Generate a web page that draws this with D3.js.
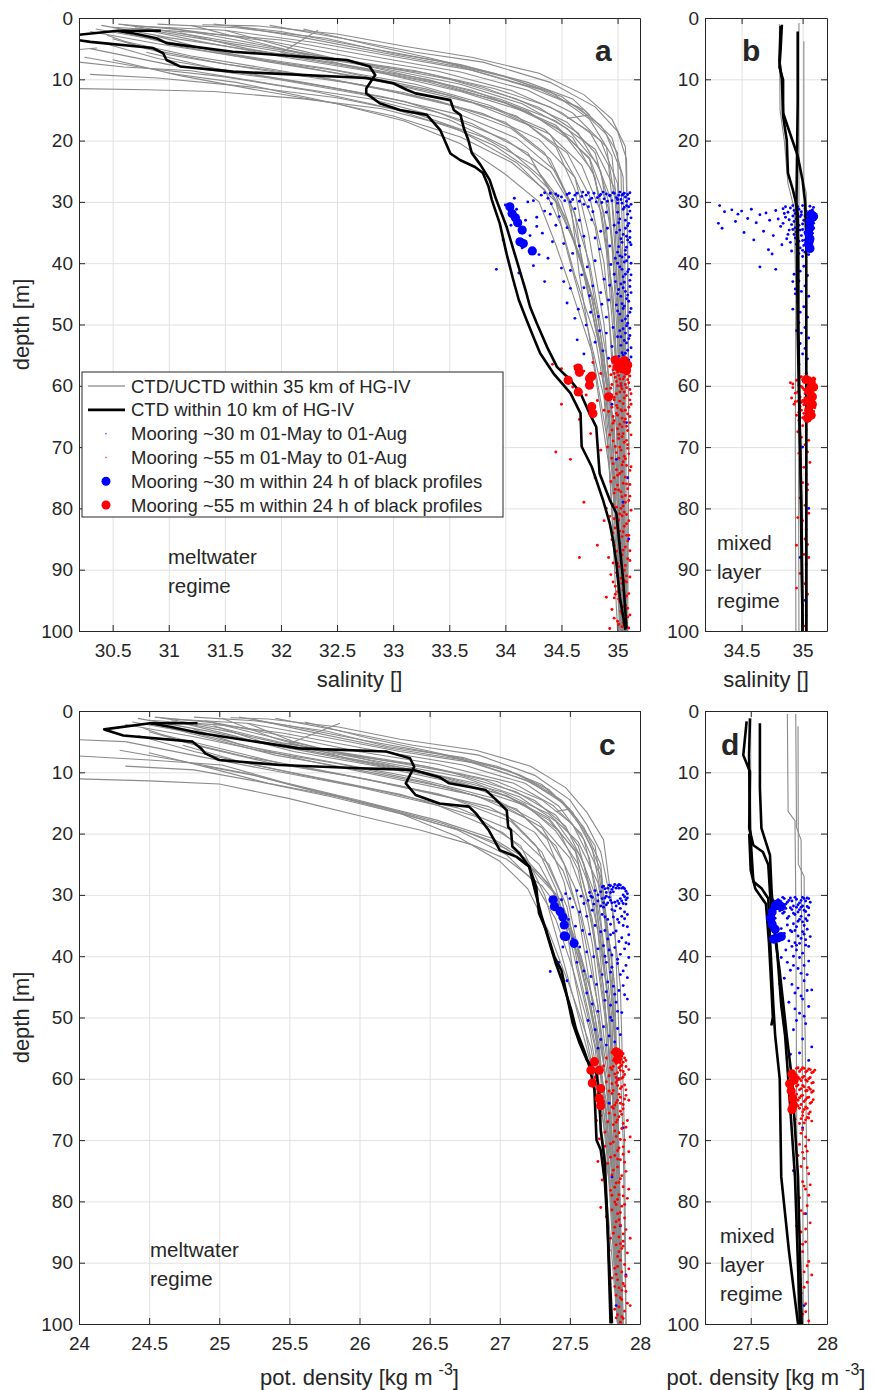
<!DOCTYPE html>
<html>
<head>
<meta charset="utf-8">
<script src="https://cdn.jsdelivr.net/npm/d3@7"></script>
<style>
  body { margin: 0; background: #fff; }
  text { font-family: "Liberation Sans", Arial, Helvetica, sans-serif; fill: #262626; }
</style>
</head>
<body>
<div id="chart"></div>
<script>
// ---------- tick values ----------
const depthTicks = [0, 10, 20, 30, 40, 50, 60, 70, 80, 90, 100];
const salTicksA = [30.5, 31, 31.5, 32, 32.5, 33, 33.5, 34, 34.5, 35];
const salTicksB = [34.5, 35];
const denTicksC = [24, 24.5, 25, 25.5, 26, 26.5, 27, 27.5, 28];
const denTicksD = [27.5, 28];

// ---------- panel a: salinity profiles [S, depth] ----------
const grayA = [
  [[31.9,1.2],[32.6,3.5],[33.2,5.6],[33.8,7.2],[34.4,10.5],[34.8,14.5],[35.0,18.5],[35.08,23],[35.09,40],[35.1,70],[35.09,100]],
  [[30.9,1.0],[31.6,1.6],[32.4,3.3],[33.0,5.8],[33.6,7.6],[34.2,10.5],[34.6,13.2],[34.75,15.8],[34.55,16.4]],
  [[30.7,1.3],[31.5,2.0],[32.3,4.0],[33.1,6.6],[33.7,8.5],[34.3,11.6],[34.7,15],[34.95,19.5],[35.05,26],[35.07,45],[35.08,100]],
  [[31.4,1.0],[32.0,2.2],[32.7,4.6],[33.4,7.0],[34.0,9.6],[34.5,12.8],[34.85,17.5],[35.0,22],[35.02,35],[35.05,60],[35.07,100]],
  [[30.5,1.5],[31.2,2.3],[32.0,3.6],[32.8,6.2],[33.6,8.8],[34.2,11.8],[34.6,15.5],[34.9,21],[34.98,30],[35.03,50],[35.06,100]],
  [[32.2,1.8],[32.8,4.4],[33.3,6.4],[33.9,9.0],[34.4,12.0],[34.75,16.5],[34.95,22.5],[35.0,32],[35.04,55],[35.06,100]],
  [[32.33,2.0],[32.0,5.7],[32.6,7.2],[33.3,9.0],[33.9,11.5],[34.4,14.5],[34.75,18.5],[34.92,24],[34.98,35],[35.03,60],[35.06,100]],
  [[30.6,1.1],[31.2,2.8],[32.0,5.2],[32.8,7.6],[33.5,10.0],[34.1,13.2],[34.55,17],[34.8,22],[34.92,30],[35.0,45],[35.05,70],[35.07,100]],
  [[30.4,1.2],[31.0,3.2],[31.8,5.4],[32.6,7.9],[33.3,10.4],[34.0,13.8],[34.45,17.5],[34.75,23],[34.88,32],[34.97,50],[35.04,80],[35.05,100]],
  [[31.0,1.6],[31.6,3.6],[32.4,6.4],[33.2,8.6],[33.8,11.3],[34.3,14.6],[34.65,18.8],[34.85,25],[34.95,36],[35.02,60],[35.05,100]],
  [[30.8,2.0],[31.3,3.9],[32.1,6.6],[32.9,9.0],[33.6,12.0],[34.2,15.4],[34.6,19.5],[34.8,26],[34.9,38],[35.0,60],[35.06,100]],
  [[30.3,2.2],[30.9,4.2],[31.7,6.5],[32.5,8.6],[33.3,11.6],[33.9,14.8],[34.4,19],[34.62,26],[34.74,35],[34.88,50],[35.0,75],[35.05,100]],
  [[31.2,1.2],[31.9,4.5],[32.6,7.8],[33.4,10.6],[34.0,13.9],[34.45,17.8],[34.75,22.8],[34.92,31],[35.0,48],[35.05,100]],
  [[30.6,2.4],[31.1,4.6],[31.9,7.2],[32.7,9.6],[33.5,12.6],[34.1,16],[34.45,21],[34.62,28],[34.72,38],[34.88,55],[35.0,85],[35.04,100]],
  [[30.45,2.8],[30.8,5.0],[31.5,7.5],[32.3,9.5],[33.1,12.2],[33.8,15.6],[34.3,19.8],[34.62,26],[34.8,34],[34.92,48],[35.0,70],[35.05,100]],
  [[31.5,2.0],[32.1,5.0],[32.9,8.4],[33.7,11.8],[34.2,15.2],[34.55,19.6],[34.78,25],[34.9,34],[34.98,52],[35.04,100]],
  [[30.9,3.0],[31.4,5.4],[32.2,8.0],[33.0,10.8],[33.7,13.8],[34.2,17.4],[34.55,22],[34.75,29],[34.88,40],[34.98,60],[35.04,100]],
  [[30.5,3.4],[31.0,6.0],[31.8,8.4],[32.6,10.6],[33.4,13.5],[34.0,17],[34.35,22],[34.55,29],[34.68,39],[34.85,55],[34.98,80],[35.05,100]],
  [[30.4,4.0],[30.9,6.6],[31.6,8.8],[32.4,11.2],[33.1,13.6],[33.7,17.2],[34.2,22],[34.45,30],[34.55,38],[34.7,48],[34.88,62],[35.03,100]],
  [[30.3,5.0],[31.0,7.6],[31.9,9.8],[32.7,12.4],[33.4,15.4],[34.0,19.8],[34.4,25],[34.6,31],[34.75,40],[34.9,55],[35.0,75],[35.05,100]],
  [[30.25,6.4],[30.8,8.2],[31.5,9.6],[32.3,12.0],[33.0,14.8],[33.6,18.4],[34.1,23.6],[34.45,30],[34.65,38],[34.82,48],[34.95,65],[35.03,100]],
  [[30.1,7.0],[30.6,8.0],[31.2,8.6],[32.0,11.0],[32.8,13.2],[33.5,16.6],[34.0,21],[34.35,26.5],[34.55,33],[34.75,44],[34.92,60],[35.02,85],[35.04,100]],
  [[30.1,11.5],[30.8,11.7],[31.4,12.0],[32.2,13.2],[32.9,14.8],[33.5,17.6],[33.9,20.8],[34.2,24.5],[34.45,29],[34.6,36],[34.78,46],[34.92,62],[35.02,100]],
  [[30.3,9.2],[30.9,9.8],[31.7,11.2],[32.5,13.0],[33.2,15.6],[33.8,19.4],[34.25,24],[34.5,30],[34.68,40],[34.85,54],[34.97,75],[35.04,100]],
  [[30.1,5.3],[30.36,4.9]],
  [[31.6,1.4],[32.2,3.2],[33.0,6.0],[33.6,8.0],[34.2,11.2],[34.65,14.5],[34.9,19],[35.03,25],[35.06,50],[35.07,100]],
  [[30.7,1.6],[31.3,3.4],[32.1,5.8],[32.9,8.2],[33.6,10.8],[34.15,14],[34.55,18],[34.82,23.8],[34.95,30],[35.02,50],[35.06,100]],
  [[30.35,1.8],[30.9,3.6],[31.6,6.0],[32.4,8.2],[33.2,10.8],[33.85,14.2],[34.35,18.2],[34.68,24],[34.86,32],[34.96,45],[35.03,70],[35.05,100]],
  [[31.1,2.4],[31.7,5.0],[32.5,7.4],[33.3,10.0],[33.95,13.2],[34.45,16.8],[34.8,21.4],[34.98,28],[35.04,40],[35.06,100]],
  [[30.6,3.8],[31.2,6.2],[32.0,8.6],[32.8,11.2],[33.5,14.2],[34.05,18],[34.4,23],[34.58,30],[34.66,42],[34.8,58],[34.98,80],[35.05,100]],
  [[31.3,1.1],[31.8,1.3],[32.5,2.6],[33.1,4.6],[33.7,6.4],[34.3,9.0],[34.7,12.5],[34.95,16.5],[35.07,21],[35.09,35],[35.1,70],[35.08,100]],
  [[30.55,1.0],[31.1,1.9],[31.9,3.8],[32.7,6.6],[33.4,8.7],[34.05,11.8],[34.5,15.4],[34.85,20],[35.0,27],[35.05,45],[35.07,100]],
  [[30.5,6.8],[31.1,9.4],[31.8,11.8],[32.5,14.0],[33.1,16.8],[33.6,20.5],[34.0,25.5],[34.3,30],[34.45,37],[34.6,45],[34.78,55],[34.92,70],[35.0,100]],
  [[31.0,9.0],[31.6,10.5],[32.3,13.2],[33.0,16.0],[33.6,19.4],[34.05,23.5],[34.35,28],[34.5,34],[34.62,42],[34.8,52],[34.95,68],[35.03,100]],
  [[30.8,5.6],[31.4,8.2],[32.2,10.5],[32.9,12.8],[33.6,15.8],[34.1,19.6],[34.45,25],[34.62,32],[34.7,42],[34.82,52],[34.97,66],[35.04,100]]
];
const blackA = [
  [[30.545,2.13],[30.68,2.5],[30.89,3.3],[30.98,4.1],[31.57,5.5],[32.59,6.85],[32.79,7.9],[32.84,9.3],[32.76,11.5],[32.76,12.3],[32.88,13.9],[33.06,15.0],[33.3,15.8],[33.42,18.3],[33.51,22.1],[33.6,23.2],[33.73,24.3],[33.8,25.3],[33.85,27.5],[33.88,29.7],[33.95,33.5],[34.01,38.4],[34.07,42.7],[34.12,46],[34.19,49.3],[34.26,52.5],[34.31,54.7],[34.43,58],[34.58,61.2],[34.67,64.5],[34.68,69.9],[34.77,73.2],[34.87,78.6],[34.93,82.4],[34.96,85.2],[34.99,89],[35.02,94.4],[35.07,99.8]],
  [[30.93,2.07],[30.545,2.07],[30.0,3.1],[30.3,3.9],[30.86,4.9],[30.95,5.75],[30.98,6.85],[31.10,7.9],[31.57,8.75],[32.76,9.8],[33.0,10.65],[33.12,11.7],[33.2,12.3],[33.51,13.4],[33.54,15],[33.6,15.8],[33.63,18],[33.67,19.9],[33.7,22],[33.78,24],[33.86,26.4],[33.92,29.7],[34.01,34],[34.09,38.9],[34.18,44.4],[34.22,47.1],[34.28,49.8],[34.37,53.6],[34.46,56.9],[34.58,59.1],[34.67,61.2],[34.75,64.5],[34.81,66.7],[34.84,74.3],[34.93,78.6],[34.99,80.8],[35.02,86.3],[35.05,91.7],[35.08,99.6]]
];
const blueA = [
  [34.32,28.9],[34.38,29.4],[34.45,28.7],[34.5,29.2],[34.55,28.8],[34.6,29.6],[34.64,28.6],[34.68,29.1],[34.72,28.9],[34.75,29.7],[34.79,28.6],[34.82,29.3],[34.85,28.8],[34.88,29.5],[34.9,28.7],[34.93,29.0],[34.95,29.8],[34.97,28.6],[34.99,29.3],[35.01,28.9],[35.03,29.6],[35.05,28.7],[35.07,29.2],[35.09,28.8],[35.1,29.5],[34.41,30.3],[34.58,30.0],[34.7,30.4],[34.86,30.1],[35.0,30.2],[35.08,30.6],[34.25,29.8],[34.93,28.9],[35.06,28.6],[34.77,29.4],
  [34.35,28.5],[34.47,29.0],[34.53,29.8],[34.62,28.9],[34.66,29.9],[34.74,28.5],[34.81,30.0],[34.84,29.0],[34.91,29.9],[34.96,28.5],[35.0,29.6],[35.04,28.9],[35.08,29.9],[35.11,28.5],[35.12,30.4],[34.4,28.6],[34.57,28.6],[34.69,28.4],[34.87,28.4],[35.02,28.4],
  [35.05,31.2],[35.09,32.0],[35.02,32.8],[35.1,33.5],[35.07,34.3],[34.99,35.0],[35.11,35.8],[35.04,36.6],[35.08,37.4],[35.0,38.2],[35.1,39.0],[35.06,39.8],[35.02,40.6],[35.09,41.4],[35.05,42.2],[34.98,43.0],[35.11,43.8],[35.07,44.6],[35.03,45.4],[35.1,46.2],[35.06,47.0],[35.0,47.8],[35.09,48.6],[35.04,49.4],[35.08,50.2],[35.02,51.0],[35.11,51.8],[35.06,52.6],[35.03,53.4],[35.09,54.2],[35.05,55.0],[35.1,55.8],[35.07,33.0],[35.03,36.0],[35.1,41.0],[35.0,45.0],[35.08,53.0],[34.96,50.5],[35.04,39.0],[35.11,31.5],[34.97,33.8],[35.05,44.0],[35.09,49.8],[35.01,55.2],[35.07,37.9],
  [35.12,32.6],[35.0,31.7],[35.06,30.9],[35.11,34.8],[35.02,34.6],[35.08,35.6],[35.12,37.0],[35.01,37.3],[35.07,38.6],[35.12,40.0],[35.0,40.0],[35.07,41.8],[35.11,42.8],[35.03,43.4],[35.08,45.8],[35.12,47.4],[35.02,48.3],[35.07,49.1],[35.11,50.6],[35.0,52.0],[35.07,51.4],[35.12,53.8],[35.04,54.6],[35.08,56.0],[35.12,44.8],[34.98,39.2],[34.99,46.8],[34.97,41.8],[35.05,47.4],[35.09,36.2],
  [35.04,30.2],[35.1,30.8],[35.01,33.4],[35.09,33.9],[35.05,35.3],[35.11,36.6],[35.02,38.8],[35.08,39.6],[35.04,41.0],[35.12,41.9],[35.06,43.1],[35.01,44.3],[35.09,45.2],[35.04,46.6],[35.11,48.0],[35.05,50.7],[35.1,52.3],[35.03,52.0],[35.07,54.7],[35.12,55.3],
  [34.35,31.5],[34.48,32.4],[34.62,31.1],[34.77,32.9],[34.9,31.7],[34.55,34.2],[34.7,35.6],[34.85,34.8],[34.42,36.5],[34.93,37.2],[34.6,38.4],[34.8,39.6],[34.5,40.8],[34.68,41.9],[34.88,42.6],[34.58,44.1],[34.75,45.3],[34.92,46.0],[34.65,47.5],[34.83,48.7],[34.72,50.1],[34.9,51.4],[34.8,52.9],[34.87,54.3],[34.45,33.8],[34.33,35.1],[34.66,33.0],[34.84,37.7],[34.52,43.0],[34.94,40.2],[34.38,39.2],[34.78,43.7],[34.62,49.0],[34.9,48.8],[34.95,53.6],[34.7,54.8],[34.85,44.8],[34.28,32.5],[34.74,30.8],[34.55,46.5],
  [34.4,32.0],[34.52,36.8],[34.66,37.2],[34.8,35.9],[34.91,34.3],[34.73,40.6],[34.58,41.2],[34.86,46.7],[34.7,44.0],[34.93,43.6],[34.76,48.0],[34.84,51.0],[34.64,52.5],[34.92,55.5],[34.78,31.6],
  [34.0,30.5],[34.1,31.2],[34.18,33.0],[34.05,33.8],[34.22,35.5],[34.15,37.5],[34.3,38.6],[33.98,36.2],[34.25,40.4],[34.12,41.6],[33.92,41.0],[34.2,30.0],[34.08,29.4],[34.28,34.0],[34.35,43.0],
  [35.03,60],[35.08,66],[34.99,72],[35.05,79],[35.1,85],[35.0,91],[35.06,96],[34.95,63],[35.09,75]
];
const redA = [
  [34.95,55.6],[34.98,56.2],[35.01,55.8],[35.03,56.5],[35.05,55.7],[35.07,56.9],[35.09,56.0],[35.1,57.2],[34.96,57.4],[35.0,57.8],[35.04,57.5],[35.08,58.1],[34.93,56.8],[35.06,58.5],[35.02,58.9],[34.99,59.3],[35.1,59.5],
  [34.96,55.5],[35.0,55.5],[35.04,56.0],[35.08,55.5],[35.11,56.3],[34.97,56.9],[35.02,57.0],[35.06,57.5],[35.11,58.4],[34.94,58.2],[34.98,58.6],[35.03,59.6],[35.07,59.8],[35.11,60.6],[34.95,61.5],[34.99,61.3],[35.06,61.0],[35.11,62.3],[35.0,63.6],[35.04,64.1],[35.09,64.6],[34.97,65.7],[35.02,66.3],[35.11,66.0],[34.95,67.2],[35.05,67.8],[35.08,68.9],[34.99,70.9],[35.06,71.5],[35.12,73.2],[35.0,74.6],[35.05,75.9],[35.11,76.1],[34.98,76.9],[35.03,77.3],[35.07,79.0],[34.99,79.8],[35.12,80.3],[35.04,81.2],[34.97,81.7],[35.06,82.9],[35.02,83.7],[35.09,85.3],[34.97,86.0],[35.11,86.9],[35.03,88.6],[35.07,89.3],[34.99,90.5],[35.11,91.2],[35.04,92.2],[35.0,93.6],[35.08,94.3],[35.03,96.8],[35.11,97.4],[34.97,97.9],[35.05,98.7],[35.1,99.5],[34.96,92.0],[35.08,84.4],[35.01,71.8],
  [34.97,58.0],[35.01,58.3],[35.05,58.9],[35.09,59.0],[34.95,59.8],[35.0,60.0],[35.04,60.5],[35.08,60.3],[35.12,61.3],[34.97,61.9],[35.02,62.5],[35.06,62.0],[35.12,63.0],[34.95,63.5],[35.03,63.9],[35.07,64.0],[34.99,64.5],[35.11,65.0],[35.04,65.3],[34.96,65.0],[35.08,66.6],[35.0,67.0],[35.12,68.0],[35.04,68.3],[34.96,69.0],[35.09,69.6],[35.02,70.0],[35.07,71.9],[34.96,72.7],[35.11,73.8],[35.04,74.0],[35.08,76.0],[35.01,77.0],[35.11,78.0],[35.05,79.6],[35.08,81.0],[35.0,82.8],[35.04,84.6],[35.11,88.5],[35.06,91.8],[35.01,94.8],[35.09,96.3],[35.04,99.3],
  [34.94,60.4],[35.02,61.0],[35.08,61.6],[34.97,62.3],[35.05,62.9],[35.1,63.5],[34.92,64.2],[35.0,64.8],[35.07,65.4],[34.96,66.1],[35.04,66.7],[35.09,67.3],[34.93,68.0],[35.01,68.6],[35.06,69.2],[34.98,69.9],[35.03,70.5],[35.1,71.1],[34.95,71.8],[35.05,72.4],[35.08,73.0],[34.99,73.7],[35.02,74.3],[35.07,74.9],[34.94,75.6],[35.0,76.2],[35.09,76.8],[34.97,77.5],[35.04,78.1],[35.1,78.7],[34.96,79.4],[35.03,80.0],[35.06,80.6],[34.93,81.3],[35.01,81.9],[35.08,82.5],[34.98,83.2],[35.05,83.8],[35.1,84.4],[34.95,85.1],[35.02,85.7],[35.07,86.3],[34.99,87.0],[35.04,87.6],[35.09,88.2],[34.96,88.9],[35.01,89.5],[35.06,90.1],[34.94,90.8],[35.03,91.4],[35.08,92.0],[34.98,92.7],[35.05,93.3],[35.1,93.9],[34.97,94.6],[35.02,95.2],[35.07,95.8],[34.95,96.5],[35.04,97.1],[35.09,97.7],[35.0,98.4],[35.06,99.0],[34.93,99.6],
  [35.03,60.1],[34.99,63.2],[35.06,65.9],[35.01,67.9],[35.09,70.2],[35.04,72.9],[34.97,75.0],[35.07,77.9],[35.02,80.9],[35.1,82.0],[34.96,84.0],[35.05,86.8],[35.0,89.0],[35.08,91.0],[34.98,94.0],[35.06,96.0],[35.01,98.9],[34.91,70.0],[34.9,80.0],[34.92,88.0],[34.9,94.5],
  [34.42,56.5],[34.5,57.2],[34.55,58.5],[34.62,56.8],[34.7,57.6],[34.78,56.2],[34.85,58.0],[34.6,60.2],[34.72,61.5],[34.82,62.4],[34.5,63.0],[34.66,65.5],[34.88,64.0],[34.76,67.8],[34.85,70.5],[34.58,72.0],[34.8,75.0],[34.7,79.0],[34.88,82.0],[34.66,88.0],[34.82,86.0],[34.45,70.8],[34.9,60.5],[34.75,59.3]
];
const bigBlueA = [[34.04,30.8],[34.06,31.9],[34.09,32.6],[34.11,33.4],[34.15,34.6],[34.13,36.5],[34.16,36.8],[34.24,38.0]];
const bigRedA = [[34.56,59.1],[34.65,57.1],[34.66,57.8],[34.65,61.0],[34.75,58.8],[34.77,58.4],[34.75,59.9],[34.77,63.4],[34.78,64.5],[34.92,61.8],[34.98,55.8],[35.02,56.3],[35.06,55.9],[35.09,56.6],[35.04,57.2],[35.08,57.5],[35.0,56.9]];

// ---------- panel b: salinity, mixed layer regime ----------
const grayB = [
  [[34.97,0.8],[34.97,30],[34.965,60],[34.97,100]],
  [[35.01,3.8],[35.01,27],[35.03,28.5],[35.035,60],[35.04,100]],
  [[34.81,1.0],[34.815,15],[34.85,20],[34.88,27],[34.93,31],[34.945,45],[34.94,70],[34.945,100]]
];
const blackB = [
  [[34.83,1.1],[34.82,5],[34.81,8],[34.84,10.1],[34.84,16],[34.87,19.9],[34.88,25.3],[34.92,28],[34.94,29.7],[34.96,32],[34.965,40],[34.965,49],[34.975,65],[34.99,79],[35.0,100]],
  [[34.96,2.2],[34.96,13.4],[34.95,29.7],[34.955,40],[34.96,51],[34.98,70],[34.99,85],[35.0,100]],
  [[34.82,1.3],[34.81,7],[34.83,10],[34.84,15.5],[34.9,19],[34.96,22.5],[35.0,26.5],[35.02,30],[35.03,36],[35.03,50],[35.03,70],[35.03,100]]
];
const blueB = [
  [34.9,31.0],[34.93,31.4],[34.96,30.8],[34.99,31.6],[35.02,31.1],[35.05,31.8],[35.08,31.3],[35.1,31.9],[34.92,32.3],[34.95,32.8],[34.98,32.4],[35.01,33.0],[35.04,32.6],[35.07,33.2],[35.1,32.9],[34.91,33.7],[34.94,34.2],[34.97,33.8],[35.0,34.5],[35.03,34.0],[35.06,34.7],[35.09,34.3],[34.93,35.3],[34.96,35.9],[34.99,35.5],[35.02,36.2],[35.05,35.8],[35.08,36.5],[34.95,36.9],[34.98,37.5],[35.01,37.1],[35.04,37.8],[35.07,37.3],[34.97,38.4],[35.0,38.9],[35.03,38.6],[34.88,31.7],[34.86,32.5],[34.89,34.6],[34.87,36.0],
  [34.92,30.6],[34.97,31.2],[35.0,30.6],[35.03,31.5],[35.06,30.7],[35.09,30.9],[34.94,31.9],[34.99,32.1],[35.02,32.3],[35.05,32.9],[35.08,32.1],[34.89,32.9],[34.93,33.2],[34.96,33.4],[35.0,33.6],[35.03,33.1],[35.06,33.9],[35.09,33.5],[34.92,34.5],[34.95,34.9],[34.98,34.6],[35.02,35.0],[35.05,34.4],[35.08,35.1],[34.94,35.9],[34.97,36.4],[35.0,36.3],[35.03,36.8],[35.07,36.0],[34.96,37.6],[35.0,37.9],[35.02,38.2],[35.05,38.6],[34.86,30.8],[34.84,33.5],[34.88,35.3],[34.85,31.9],[34.9,36.6],[34.91,38.0],
  [34.32,30.6],[34.36,31.6],[34.31,33.5],[34.34,34.3],[34.42,31.3],[34.47,32.0],[34.5,31.5],[34.55,32.7],[34.58,31.2],[34.62,33.4],[34.65,32.1],[34.68,34.8],[34.7,31.8],[34.73,33.0],[34.76,35.5],[34.78,31.4],[34.8,32.8],[34.82,34.0],[34.84,31.1],[34.6,36.2],[34.72,37.8],[34.65,40.6],[34.78,41.0],[34.52,35.0],[34.45,33.2],[34.83,37.0],[34.75,38.5],
  [34.96,39.8],[35.01,40.5],[34.98,41.3],[35.04,42.0],[34.97,42.9],[35.02,43.7],[34.99,44.6],[35.05,45.4],[34.96,46.3],[35.01,47.1],[34.98,48.0],[35.04,48.8],[34.97,49.7],[35.02,50.5],[34.99,51.4],[35.05,52.2],[34.98,53.1],[35.02,53.9],[35.0,54.8],[35.04,55.6],[34.97,56.5],[34.93,41.8],[34.94,44.2],[34.92,47.5],[34.95,51.0],[34.94,45.0],[34.92,43.0],[35.03,58.0],[35.0,70.0],[35.05,80.0],[34.98,88.0],[35.02,95.0]
];
const redB = [
  [34.98,58.6],[35.0,59.0],[35.02,58.8],[35.04,59.4],[35.06,58.7],[35.08,59.2],[35.1,58.9],[34.99,60.1],[35.01,60.6],[35.03,60.2],[35.05,61.0],[35.07,60.5],[35.09,61.3],[34.98,61.8],[35.0,62.4],[35.02,62.0],[35.04,62.8],[35.06,63.3],[35.08,62.6],[35.1,63.6],[34.99,64.0],[35.01,64.5],[35.03,64.2],[35.05,65.0],[35.07,64.7],
  [34.99,58.5],[35.01,59.4],[35.03,58.6],[35.05,59.8],[35.07,59.0],[35.09,58.7],[35.0,60.3],[35.02,61.3],[35.04,60.7],[35.06,61.6],[35.08,60.9],[35.1,62.0],[34.99,62.7],[35.01,63.1],[35.03,63.6],[35.05,62.3],[35.07,63.8],[35.09,64.2],[35.0,65.2],[35.02,65.0],[35.04,65.5],[35.06,64.1],[34.97,59.9],[34.96,61.0],[34.94,62.6],[34.92,59.7],[34.98,63.4],[34.97,64.3],
  [34.9,59.5],[34.92,60.3],[34.94,61.2],[34.91,62.0],[34.95,59.1],[34.93,63.0],[34.96,62.5],[34.95,64.8],[34.97,65.6],
  [35.0,66.5],[35.03,67.2],[34.99,68.4],[35.02,69.6],[35.04,70.8],[34.98,72.0],[35.01,73.3],[35.03,74.5],[35.0,75.8],[35.04,77.0],[34.98,78.3],[35.02,79.5],[35.05,80.8],[35.0,82.0],[35.03,83.4],[34.99,84.6],[35.04,85.9],[35.01,87.5],[35.03,89.1],[34.98,90.6],[35.02,92.3],[35.04,94.0],[35.0,95.8],[35.03,97.5],[35.01,99.2],[35.05,68.9],[34.97,71.0],[35.04,76.1],[34.96,81.5],[35.05,88.0],[34.95,93.0],[35.03,66.0],[34.96,67.5],[35.06,72.5],[35.02,85.0],[34.95,86.0]
];
const bigBlueB = [[35.07,32.0],[35.09,32.4],[35.06,33.2],[35.06,34.2],[35.05,35.1],[35.06,36.0],[35.05,36.8],[35.06,37.6]];
const bigRedB = [[35.03,59.0],[35.07,59.4],[35.09,60.2],[35.05,60.8],[35.08,61.8],[35.04,62.5],[35.08,63.0],[35.05,64.0],[35.07,64.8],[35.04,65.3]];

// ---------- panel c: potential density profiles [sigma, depth] ----------
const grayC = [
  [[25.4,1.2],[25.92,3.5],[26.38,5.6],[26.85,7.2],[27.25,10.5],[27.5,14.5],[27.62,18.5],[27.72,23],[27.8,32],[27.86,45],[27.89,70],[27.9,100]],
  [[24.82,1.0],[25.25,1.6],[25.77,3.3],[26.2,5.8],[26.74,7.6],[27.15,10.5],[27.38,13.6],[27.5,16.0],[27.4,16.4]],
  [[24.66,1.3],[25.2,2.0],[25.69,4.0],[26.29,6.6],[26.83,8.5],[27.22,11.6],[27.45,15],[27.6,19.5],[27.72,26],[27.82,45],[27.87,100]],
  [[25.14,1.0],[25.45,2.2],[25.99,4.6],[26.56,7.0],[27.05,9.6],[27.35,12.8],[27.55,17.5],[27.68,22],[27.76,35],[27.84,60],[27.87,100]],
  [[24.5,1.5],[25.02,2.3],[25.45,3.6],[26.06,6.2],[26.74,8.8],[27.18,11.8],[27.42,15.5],[27.6,21],[27.7,30],[27.8,50],[27.86,100]],
  [[25.61,1.8],[26.06,4.4],[26.47,6.4],[26.98,9.0],[27.3,12.0],[27.52,16.5],[27.66,22.5],[27.74,32],[27.83,55],[27.86,100]],
  [[25.86,2.0],[25.5,5.3],[25.92,7.2],[26.47,9.0],[26.98,11.5],[27.3,14.5],[27.52,18.5],[27.64,24],[27.72,35],[27.82,60],[27.86,100]],
  [[24.58,1.1],[25.02,2.8],[25.45,5.2],[26.06,7.6],[26.65,10.0],[27.12,13.2],[27.4,17],[27.56,22],[27.66,30],[27.76,45],[27.84,70],[27.87,100]],
  [[24.42,1.2],[24.9,3.2],[25.35,5.4],[25.92,7.9],[26.47,10.4],[27.05,13.8],[27.35,17.5],[27.54,23],[27.64,32],[27.75,50],[27.83,80],[27.85,100]],
  [[24.9,1.6],[25.25,3.6],[25.77,6.4],[26.38,8.6],[26.9,11.3],[27.25,14.6],[27.47,18.8],[27.6,25],[27.7,36],[27.8,60],[27.85,100]],
  [[24.74,2.0],[25.08,3.9],[25.53,6.6],[26.13,9.0],[26.74,12.0],[27.18,15.4],[27.42,19.5],[27.56,26],[27.66,38],[27.78,60],[27.86,100]],
  [[24.33,2.2],[24.82,4.2],[25.3,6.5],[25.85,8.6],[26.47,11.6],[26.98,14.8],[27.3,19],[27.46,25],[27.56,33],[27.68,50],[27.8,75],[27.85,100]],
  [[25.02,1.2],[25.4,4.5],[25.92,7.8],[26.56,10.6],[27.05,13.9],[27.35,17.8],[27.54,22.8],[27.68,31],[27.78,48],[27.86,100]],
  [[24.58,2.4],[24.96,4.6],[25.4,7.2],[25.99,9.6],[26.65,12.6],[27.12,16],[27.34,21],[27.46,28],[27.55,38],[27.7,55],[27.82,85],[27.85,100]],
  [[24.46,2.8],[24.74,5.0],[25.2,7.5],[25.69,9.5],[26.29,12.2],[26.92,15.6],[27.25,19.8],[27.45,26],[27.58,34],[27.7,48],[27.8,70],[27.86,100]],
  [[25.2,2.0],[25.53,5.0],[26.13,8.4],[26.83,11.8],[27.18,15.2],[27.4,19.6],[27.56,25],[27.66,34],[27.77,52],[27.85,100]],
  [[24.82,3.0],[25.14,5.4],[25.61,8.0],[26.2,10.8],[26.83,13.8],[27.18,17.4],[27.4,22],[27.54,29],[27.65,40],[27.77,60],[27.85,100]],
  [[24.5,3.4],[24.9,6.0],[25.35,8.4],[25.92,10.6],[26.56,13.5],[27.05,17],[27.26,22],[27.4,29],[27.52,39],[27.68,55],[27.8,80],[27.86,100]],
  [[24.42,4.0],[24.82,6.6],[25.25,8.8],[25.77,11.2],[26.29,13.6],[26.83,17.2],[27.15,22],[27.32,30],[27.42,38],[27.54,48],[27.7,62],[27.84,100]],
  [[24.33,5.0],[24.9,7.6],[25.4,9.8],[25.99,12.4],[26.56,15.4],[27.02,19.8],[27.28,25],[27.42,31],[27.56,40],[27.71,55],[27.8,75],[27.86,100]],
  [[24.29,6.4],[24.74,8.2],[25.2,10.2],[25.65,12.8],[26.15,15.6],[26.6,18.4],[26.98,21.5],[27.2,25],[27.38,29.5],[27.52,37],[27.65,48],[27.76,65],[27.84,100]],
  [[23.9,7.2],[24.5,8.0],[25.02,8.8],[25.45,11.6],[26.0,14.6],[26.55,17.8],[26.95,20.8],[27.18,24],[27.36,28.5],[27.5,35],[27.64,45],[27.76,60],[27.85,100]],
  [[23.9,11.0],[24.5,11.4],[25.0,11.9],[25.5,14.3],[26.0,17.1],[26.43,19.4],[26.8,21.8],[27.05,24.2],[27.3,28.5],[27.45,33],[27.58,40],[27.7,50],[27.78,65],[27.84,100]],
  [[24.33,9.0],[24.82,9.6],[25.3,11.6],[25.8,14.0],[26.3,16.8],[26.75,19.6],[27.05,22.5],[27.28,26.5],[27.44,31],[27.58,40],[27.7,54],[27.8,75],[27.86,100]],
  [[23.9,4.6],[24.33,5.0]],
  [[25.25,1.4],[25.61,3.2],[26.2,6.0],[26.74,8.0],[27.18,11.2],[27.44,14.5],[27.6,19],[27.72,25],[27.82,50],[27.88,100]],
  [[24.66,1.6],[25.08,3.4],[25.53,5.8],[26.13,8.2],[26.74,10.8],[27.14,14],[27.4,18],[27.58,23.8],[27.68,30],[27.79,50],[27.87,100]],
  [[24.38,1.8],[24.82,3.6],[25.25,6.0],[25.77,8.2],[26.38,10.8],[26.95,14.2],[27.28,18.2],[27.5,24],[27.63,32],[27.74,45],[27.83,70],[27.86,100]],
  [[24.96,2.4],[25.3,5.0],[25.85,7.4],[26.47,10.0],[27.02,13.2],[27.35,16.8],[27.56,21.4],[27.7,28],[27.8,40],[27.87,100]],
  [[24.58,3.8],[25.02,6.2],[25.45,8.6],[26.06,11.2],[26.65,14.2],[27.08,18],[27.3,23],[27.44,30],[27.52,42],[27.66,58],[27.8,80],[27.86,100]],
  [[25.08,1.1],[25.35,1.3],[25.85,2.6],[26.29,4.6],[26.83,6.4],[27.22,9.0],[27.47,12.5],[27.62,16.5],[27.74,21],[27.82,35],[27.88,70],[27.9,100]],
  [[24.54,1.0],[24.96,1.9],[25.4,3.8],[25.99,6.6],[26.56,8.7],[27.1,11.8],[27.38,15.4],[27.58,20],[27.72,27],[27.82,45],[27.88,100]],
  [[24.5,6.8],[24.95,9.4],[25.35,11.8],[25.85,14.0],[26.3,16.8],[26.7,20.5],[27.0,24.5],[27.2,29],[27.35,36],[27.5,45],[27.65,55],[27.76,70],[27.84,100]],
  [[24.9,9.0],[25.25,10.5],[25.7,13.2],[26.2,16.0],[26.7,19.4],[27.05,23.5],[27.25,28],[27.4,34],[27.52,42],[27.64,52],[27.76,68],[27.85,100]],
  [[24.74,5.6],[25.14,8.2],[25.6,10.5],[26.1,12.8],[26.7,15.8],[27.1,19.6],[27.35,25],[27.48,32],[27.56,42],[27.66,52],[27.78,66],[27.86,100]]
];
const blackC = [
  [[24.506,2.0],[24.65,2.56],[24.86,3.6],[25.57,6.1],[26.19,6.6],[26.36,7.7],[26.39,9.1],[26.33,11.8],[26.4,13.7],[26.57,15.1],[26.78,15.6],[26.83,16.7],[26.92,19.4],[27.0,22.7],[27.12,23.8],[27.21,25.4],[27.25,29.2],[27.30,33.6],[27.35,37.4],[27.40,41.2],[27.45,44.4],[27.51,48.8],[27.545,52],[27.60,55.3],[27.64,58],[27.675,61.8],[27.69,70],[27.72,71.6],[27.75,77],[27.77,84.7],[27.79,99.9]],
  [[24.845,2.0],[24.506,2.0],[24.18,3.0],[24.316,4.0],[24.81,5.0],[24.87,6.1],[24.9,6.9],[25.0,8.0],[25.43,8.8],[26.0,9.35],[26.38,9.6],[26.57,10.8],[26.64,11.8],[26.9,12.9],[26.975,14.5],[27.05,16.2],[27.06,18.9],[27.08,19.4],[27.09,22.1],[27.14,23.2],[27.21,25.4],[27.26,28.7],[27.28,33],[27.33,35.7],[27.39,40.1],[27.44,42.3],[27.47,45.5],[27.52,50.9],[27.57,54.2],[27.62,56.9],[27.69,59.1],[27.71,62.9],[27.72,68.4],[27.75,73.8],[27.77,84.7],[27.80,99.9]]
];
const blueC = [
  [27.72,29.5],[27.74,28.6],[27.76,30.2],[27.78,28.4],[27.8,29.1],[27.82,28.3],[27.84,28.5],[27.86,28.4],[27.88,28.8],[27.9,29.4],[27.89,30.3],[27.87,31.0],[27.85,31.4],[27.82,31.2],[27.79,30.9],[27.77,31.3],[27.75,29.0],[27.73,30.6],[27.81,28.7],[27.85,28.9],[27.88,30.0],[27.9,31.5],[27.76,29.6],[27.79,29.6],[27.91,30.5],[27.83,31.8],[27.7,30.0],[27.68,29.3],[27.66,30.4],[27.64,29.6],[27.63,30.9],[27.86,32.2],[27.89,32.8],[27.8,32.4],[27.74,32.0],
  [27.73,28.7],[27.75,30.5],[27.77,28.9],[27.79,28.5],[27.81,29.5],[27.83,28.9],[27.85,28.3],[27.87,28.9],[27.89,29.0],[27.91,29.8],[27.9,30.8],[27.88,31.4],[27.86,30.6],[27.84,31.0],[27.8,31.3],[27.78,30.4],[27.76,31.6],[27.74,31.3],[27.72,31.8],[27.7,31.0],[27.67,31.5],[27.65,30.2],[27.82,32.6],[27.87,33.5],[27.91,33.2],[27.75,33.6],[27.79,34.8],[27.84,34.0],[27.88,35.0],[27.92,36.5],[27.81,36.2],[27.85,37.6],[27.77,37.2],[27.89,38.8],[27.8,39.8],[27.84,40.5],[27.9,41.5],[27.75,40.0],[27.79,42.6],[27.86,43.0],[27.82,46.2],[27.88,44.8],[27.76,45.8],[27.91,47.0],[27.84,49.0],[27.79,50.0],[27.86,52.8],[27.74,51.5],[27.82,54.0],[27.76,54.5],
  [27.73,33.2],[27.77,34.0],[27.81,33.6],[27.85,34.5],[27.89,33.9],[27.91,35.2],[27.75,35.8],[27.79,36.5],[27.83,35.9],[27.87,37.0],[27.9,37.8],[27.74,38.3],[27.78,39.0],[27.82,38.6],[27.86,39.7],[27.92,40.2],[27.76,41.0],[27.8,41.8],[27.84,41.2],[27.88,42.4],[27.91,43.5],[27.73,43.0],[27.77,44.2],[27.81,44.9],[27.85,45.6],[27.89,46.3],[27.75,47.2],[27.79,48.0],[27.83,47.5],[27.87,49.2],[27.92,38.0],[27.72,36.0],[27.8,50.5],[27.84,51.8],[27.78,53.0],
  [27.47,29.8],[27.5,30.6],[27.55,29.3],[27.58,30.2],[27.6,31.4],[27.52,32.0],[27.57,32.8],[27.62,33.5],[27.66,32.5],[27.49,34.0],[27.54,35.1],[27.59,35.8],[27.64,36.4],[27.68,35.0],[27.52,37.2],[27.57,38.5],[27.62,39.3],[27.67,40.1],[27.7,38.8],[27.55,41.0],[27.6,42.4],[27.65,43.3],[27.69,44.6],[27.62,46.0],[27.66,47.8],[27.7,49.0],[27.63,50.5],[27.68,52.0],[27.72,53.6],[27.7,55.0],[27.45,38.5],[27.42,41.0],[27.48,44.0],[27.36,42.5],[27.44,30.8],[27.42,33.2],
  [27.85,60],[27.88,68],[27.8,76],[27.86,84],[27.9,92],[27.83,97],[27.78,64]
];
const redC = [
  [27.8,55.7],[27.82,56.2],[27.84,55.6],[27.86,56.4],[27.88,55.9],[27.81,57.0],[27.83,57.5],[27.85,56.9],[27.87,57.8],[27.79,58.2],[27.9,57.0],[27.76,56.6],[27.74,57.9],[27.72,58.6],[27.78,59.5],[27.84,59.0],[27.88,59.7],[27.92,58.5],
  [27.81,55.6],[27.83,56.0],[27.85,55.8],[27.87,56.3],[27.89,56.6],[27.82,56.8],[27.84,57.2],[27.86,57.4],[27.88,57.3],[27.9,58.0],[27.8,58.5],[27.82,59.2],[27.86,58.6],[27.89,59.3],[27.83,60.6],[27.87,61.3],[27.81,61.9],[27.85,62.5],[27.89,63.3],[27.83,63.9],[27.8,64.6],[27.86,65.3],[27.84,66.7],[27.88,67.3],[27.82,68.5],[27.86,69.9],[27.84,71.7],[27.89,73.6],[27.81,74.9],[27.85,76.9],[27.88,79.1],[27.83,80.5],[27.86,81.8],[27.82,84.2],[27.88,85.3],[27.85,88.2],[27.83,91.9],[27.89,93.8],[27.86,95.7],[27.82,97.6],[27.87,98.8],[27.78,62.0],[27.77,67.0],[27.79,72.8],[27.8,79.0],[27.79,86.0],[27.8,92.5],
  [27.81,58.0],[27.85,58.2],[27.88,58.8],[27.83,59.8],[27.87,59.9],[27.8,60.8],[27.86,61.6],[27.9,62.7],[27.84,63.5],[27.88,64.2],[27.82,65.9],[27.87,65.8],[27.9,67.9],[27.85,68.8],[27.81,70.3],[27.88,71.1],[27.84,73.1],[27.87,75.8],[27.82,77.7],[27.89,80.5],[27.85,83.0],[27.88,87.3],[27.84,90.6],[27.87,94.5],[27.83,99.0],[27.86,58.0],[27.84,60.2],[27.89,61.0],[27.86,64.0],[27.83,67.1],
  [27.76,60.5],[27.84,61.1],[27.9,61.8],[27.8,62.4],[27.86,63.0],[27.74,63.7],[27.82,64.3],[27.88,64.9],[27.78,65.6],[27.85,66.2],[27.91,66.8],[27.81,67.5],[27.87,68.1],[27.75,68.7],[27.83,69.4],[27.89,70.0],[27.79,70.6],[27.85,71.3],[27.92,71.9],[27.82,72.5],[27.86,73.2],[27.77,73.8],[27.84,74.4],[27.9,75.1],[27.8,75.7],[27.86,76.3],[27.83,77.0],[27.88,77.6],[27.79,78.2],[27.85,78.9],[27.91,79.5],[27.82,80.1],[27.87,80.8],[27.8,81.4],[27.84,82.0],[27.89,82.7],[27.83,83.3],[27.86,83.9],[27.9,84.6],[27.81,85.2],[27.85,85.8],[27.88,86.5],[27.83,87.1],[27.87,87.7],[27.91,88.4],[27.84,89.0],[27.86,89.6],[27.89,90.3],[27.82,90.9],[27.87,91.5],[27.9,92.2],[27.84,92.8],[27.88,93.4],[27.85,94.1],[27.9,94.7],[27.83,95.3],[27.87,96.0],[27.91,96.6],[27.85,97.2],[27.89,97.9],[27.84,98.5],[27.88,99.1],[27.86,99.7],
  [27.73,61.4],[27.72,66.0],[27.75,71.0],[27.73,76.5],[27.76,82.5],[27.78,88.0],[27.92,63.5],[27.93,69.5],[27.92,78.0],[27.93,86.0],[27.92,91.0],[27.93,97.0],[27.85,60.1],[27.81,64.8],[27.88,72.3],[27.84,79.7],[27.86,86.9],[27.82,93.9],
  [27.66,57.5],[27.68,59.8],[27.7,62.5],[27.69,66.8],[27.71,69.8],[27.7,73.5],[27.65,58.8],[27.72,81.0]
];
const bigBlueC = [[27.38,30.8],[27.39,31.9],[27.43,32.7],[27.45,33.6],[27.46,34.9],[27.46,36.7],[27.47,36.8],[27.53,37.9]];
const bigRedC = [[27.675,57.2],[27.65,58.6],[27.71,58.6],[27.66,60.7],[27.72,61.6],[27.71,63.2],[27.72,64.4],[27.83,55.6],[27.85,55.9],[27.84,56.8]];

// ---------- panel d: potential density, mixed layer regime ----------
const grayD = [
  [[27.74,0.5],[27.745,16.4],[27.79,17.9],[27.795,30],[27.80,60],[27.81,100]],
  [[27.795,0.5],[27.80,19],[27.83,21],[27.835,40],[27.84,70],[27.845,100]],
  [[27.81,2.5],[27.812,25],[27.85,27],[27.855,50],[27.87,80],[27.88,100]]
];
const blackD = [
  [[27.495,1.2],[27.489,7.2],[27.495,19.1],[27.51,25.1],[27.517,27.8],[27.57,28.9],[27.615,30.6],[27.626,37.1],[27.648,48],[27.66,52.9],[27.69,60],[27.70,76],[27.75,88],[27.81,100]],
  [[27.473,1.7],[27.451,7.2],[27.495,9.9],[27.49,19.1],[27.517,21.9],[27.58,23],[27.615,25.1],[27.626,29.5],[27.637,32.7],[27.67,38.2],[27.70,48],[27.725,52.9],[27.746,60],[27.79,76],[27.823,100]],
  [[27.56,2.0],[27.56,12.6],[27.57,19.1],[27.626,23.5],[27.637,29.5],[27.66,37.1],[27.69,42.5],[27.736,52.9],[27.77,60],[27.81,76],[27.834,100]],
  [[27.49,20],[27.5,26],[27.53,29],[27.6,31.5],[27.62,38],[27.635,45],[27.645,50],[27.635,51.3]]
];
const blueD = [
  [27.65,31.0],[27.68,30.8],[27.7,31.5],[27.72,30.6],[27.74,31.2],[27.76,30.5],[27.78,31.8],[27.8,30.7],[27.82,31.3],[27.84,30.4],[27.86,31.0],[27.88,30.6],[27.87,31.9],[27.85,32.5],[27.83,32.0],[27.81,32.8],[27.79,33.2],[27.77,32.4],[27.75,33.5],[27.73,32.2],[27.71,33.0],[27.69,32.6],[27.88,33.3],[27.86,33.9],[27.84,34.4],[27.82,34.0],[27.8,35.2],[27.78,34.7],[27.76,35.8],[27.74,34.9],[27.72,36.3],[27.7,35.5],[27.87,35.6],[27.85,36.4],[27.83,37.1],[27.81,36.7],[27.79,37.8],[27.77,38.4],[27.75,37.5],[27.73,39.0],[27.86,38.2],[27.84,39.5],[27.82,40.2],[27.8,39.0],[27.88,40.8],[27.78,41.5],[27.76,42.3],[27.74,41.0],[27.72,43.6],[27.83,42.8],[27.85,44.0],[27.87,43.0],[27.81,45.2],[27.79,46.0],[27.77,44.6],[27.75,47.5],[27.84,47.0],[27.88,48.2],[27.82,49.3],[27.8,50.5],[27.78,52.0],[27.86,51.0],[27.84,53.5],[27.9,54.8],[27.82,55.8],[27.88,57.0],[27.76,56.0],[27.66,33.8],[27.68,36.8],[27.7,40.2],[27.69,44.5],[27.89,36.8],[27.9,45.5],[27.8,60.0],[27.84,68.0],[27.78,75.0],[27.86,82.0],[27.82,90.0],[27.85,97.0],
  [27.64,30.7],[27.66,31.6],[27.69,31.2],[27.71,30.4],[27.73,31.5],[27.75,30.9],[27.77,31.0],[27.79,30.4],[27.81,31.6],[27.83,30.9],[27.85,30.6],[27.87,30.5],[27.89,31.2],[27.88,32.1],[27.86,32.7],[27.84,31.8],[27.82,32.4],[27.8,32.0],[27.78,33.0],[27.76,32.1],[27.74,33.8],[27.72,32.8],[27.87,34.2],[27.85,35.0],[27.83,33.5],[27.81,34.3],[27.79,35.8],[27.77,36.0],[27.84,36.0],[27.86,37.3],[27.82,37.9],[27.8,38.2],[27.88,38.4],[27.78,40.0],[27.85,41.5],[27.81,42.0],[27.87,45.6],[27.83,46.5],[27.79,48.6],[27.85,49.8]
];
const redD = [
  [27.8,58.3],[27.82,58.8],[27.84,58.2],[27.86,58.9],[27.88,58.4],[27.9,59.0],[27.92,58.6],[27.81,59.7],[27.83,60.3],[27.85,59.6],[27.87,60.4],[27.89,59.8],[27.91,60.6],[27.8,61.2],[27.82,61.8],[27.84,61.1],[27.86,62.0],[27.88,61.4],[27.9,62.2],[27.79,62.9],[27.81,63.5],[27.83,62.8],[27.85,63.7],[27.87,63.1],[27.89,64.0],[27.91,63.4],[27.82,64.8],[27.84,65.4],[27.86,64.6],[27.88,65.7],[27.83,66.5],[27.85,67.2],[27.87,66.3],[27.9,66.9],
  [27.81,58.2],[27.83,58.5],[27.85,58.3],[27.87,58.7],[27.89,58.5],[27.91,58.9],[27.8,59.4],[27.82,60.0],[27.84,59.8],[27.86,60.2],[27.88,60.0],[27.9,60.7],[27.81,61.0],[27.83,61.6],[27.85,61.3],[27.87,61.9],[27.89,61.7],[27.91,62.0],[27.8,62.5],[27.82,63.1],[27.84,62.7],[27.86,63.4],[27.88,63.0],[27.9,63.8],[27.81,64.4],[27.83,64.2],[27.85,65.0],[27.87,64.8],[27.89,65.4],[27.84,66.0],[27.86,66.7],[27.88,66.4],[27.82,67.3],[27.86,71.0],[27.84,72.0],[27.87,74.5],[27.85,77.5],[27.88,79.0],[27.83,81.5],[27.86,84.5],[27.84,87.0],[27.87,90.5],[27.85,94.0],[27.86,98.0],
  [27.76,59.2],[27.77,60.8],[27.75,62.0],[27.78,63.9],[27.77,65.2],[27.79,66.6],
  [27.84,68.3],[27.86,69.5],[27.82,70.7],[27.87,71.8],[27.85,73.0],[27.83,74.3],[27.88,75.5],[27.84,76.8],[27.86,78.0],[27.82,79.4],[27.87,80.7],[27.85,82.0],[27.89,83.5],[27.83,85.0],[27.86,86.6],[27.84,88.2],[27.88,89.8],[27.85,91.5],[27.87,93.2],[27.83,95.0],[27.86,96.7],[27.84,98.4],[27.88,99.5],[27.81,72.5],[27.89,77.3],[27.8,84.0],[27.9,92.0],[27.88,70.0],[27.83,68.9]
];
const bigBlueD = [[27.66,31.8],[27.68,31.4],[27.70,31.9],[27.64,32.8],[27.63,33.8],[27.64,34.8],[27.66,35.6],[27.65,37.2],[27.68,37.0],[27.7,36.8]];
const bigRedD = [[27.77,59.2],[27.755,60.8],[27.765,62.0],[27.775,63.2],[27.78,64.3],[27.77,65.0],[27.785,60.2]];

const legendLabels = [
  "CTD/UCTD within 35 km of HG-IV",
  "CTD within 10 km of HG-IV",
  "Mooring ~30 m 01-May to 01-Aug",
  "Mooring ~55 m 01-May to 01-Aug",
  "Mooring ~30 m within 24 h of black profiles",
  "Mooring ~55 m within 24 h of black profiles"
];

// ---------- layout ----------
const svg = d3.select("#chart").append("svg")
  .attr("width", 874).attr("height", 1390);

const panels = [
  { id: "a", domain: [30.2, 35.2], x0: 79, x1: 640, y0: 18, y1: 631, ticks: salTicksA,
    gray: grayA, black: blackA, blue: blueA, red: redA, bigBlue: bigBlueA, bigRed: bigRedA,
    letter: [595, 61], note: ["meltwater", "regime"], noteXY: [168, 564], depthLabel: true, xlabel: "sal" },
  { id: "b", domain: [34.2, 35.2], x0: 705, x1: 827, y0: 18, y1: 631, ticks: salTicksB,
    gray: grayB, black: blackB, blue: blueB, red: redB, bigBlue: bigBlueB, bigRed: bigRedB,
    letter: [742, 61], note: ["mixed", "layer", "regime"], noteXY: [717, 550], depthLabel: false, xlabel: "sal" },
  { id: "c", domain: [24, 28], x0: 79, x1: 640, y0: 711, y1: 1324, ticks: denTicksC,
    gray: grayC, black: blackC, blue: blueC, red: redC, bigBlue: bigBlueC, bigRed: bigRedC,
    letter: [599, 755], note: ["meltwater", "regime"], noteXY: [150, 1257], depthLabel: true, xlabel: "den" },
  { id: "d", domain: [27.2, 28], x0: 705, x1: 827, y0: 711, y1: 1324, ticks: denTicksD,
    gray: grayD, black: blackD, blue: blueD, red: redD, bigBlue: bigBlueD, bigRed: bigRedD,
    letter: [721, 755], note: ["mixed", "layer", "regime"], noteXY: [720, 1243], depthLabel: false, xlabel: "den" }
];

const axisColor = "#262626";

panels.forEach(p => {
  const x = d3.scaleLinear().domain(p.domain).range([p.x0, p.x1]);
  const y = d3.scaleLinear().domain([0, 100]).range([p.y0, p.y1]);
  const w = p.x1 - p.x0, h = p.y1 - p.y0;
  const g = svg.append("g");

  // grid
  g.append("g")
    .attr("transform", `translate(0,${p.y1})`)
    .call(d3.axisBottom(x).tickValues(p.ticks).tickSize(-h).tickFormat(""))
    .call(a => a.select(".domain").remove())
    .selectAll("line").attr("stroke", "#e1e1e1");
  g.append("g")
    .attr("transform", `translate(${p.x0},0)`)
    .call(d3.axisLeft(y).tickValues(depthTicks).tickSize(-w).tickFormat(""))
    .call(a => a.select(".domain").remove())
    .selectAll("line").attr("stroke", "#e1e1e1");

  // clip
  svg.append("clipPath").attr("id", "clip-" + p.id)
    .append("rect").attr("x", p.x0).attr("y", p.y0).attr("width", w).attr("height", h);
  const plot = g.append("g").attr("clip-path", `url(#clip-${p.id})`);

  const line = d3.line().x(d => x(d[0])).y(d => y(d[1]));

  plot.append("g").selectAll("path")
    .data(p.gray).join("path")
    .attr("d", line).attr("fill", "none")
    .attr("stroke", "#8a8a8a").attr("stroke-width", 1.1);

  plot.append("g").selectAll("circle")
    .data(p.blue).join("circle")
    .attr("cx", d => x(d[0])).attr("cy", d => y(d[1]))
    .attr("r", 1.45).attr("fill", "#0000ff");

  plot.append("g").selectAll("circle")
    .data(p.red).join("circle")
    .attr("cx", d => x(d[0])).attr("cy", d => y(d[1]))
    .attr("r", 1.45).attr("fill", "#ff0000");

  plot.append("g").selectAll("path")
    .data(p.black).join("path")
    .attr("d", line).attr("fill", "none")
    .attr("stroke", "#000").attr("stroke-width", 2.6)
    .attr("stroke-linejoin", "round");

  plot.append("g").selectAll("circle")
    .data(p.bigBlue).join("circle")
    .attr("cx", d => x(d[0])).attr("cy", d => y(d[1]))
    .attr("r", 4.6).attr("fill", "#0000ff");

  plot.append("g").selectAll("circle")
    .data(p.bigRed).join("circle")
    .attr("cx", d => x(d[0])).attr("cy", d => y(d[1]))
    .attr("r", 4.6).attr("fill", "#ff0000");

  // axes (ticks inward on all four sides)
  const styleAxis = a => {
    a.select(".domain").attr("stroke", axisColor);
    a.selectAll(".tick line").attr("stroke", axisColor);
    a.selectAll("text").attr("fill", axisColor)
      .style("font-size", "19px")
      .style("font-family", '"Liberation Sans", Arial, Helvetica, sans-serif');
  };
  g.append("g").attr("transform", `translate(0,${p.y1})`)
    .call(d3.axisBottom(x).tickValues(p.ticks).tickSize(-6).tickSizeOuter(0).tickPadding(13).tickFormat(d => String(d)))
    .call(styleAxis);
  g.append("g").attr("transform", `translate(0,${p.y0})`)
    .call(d3.axisTop(x).tickValues(p.ticks).tickSize(-6).tickSizeOuter(0).tickFormat(""))
    .call(styleAxis);
  g.append("g").attr("transform", `translate(${p.x0},0)`)
    .call(d3.axisLeft(y).tickValues(depthTicks).tickSize(-6).tickSizeOuter(0).tickPadding(6).tickFormat(d => String(d)))
    .call(styleAxis);
  g.append("g").attr("transform", `translate(${p.x1},0)`)
    .call(d3.axisRight(y).tickValues(depthTicks).tickSize(-6).tickSizeOuter(0).tickFormat(""))
    .call(styleAxis);

  // labels
  const cx = (p.x0 + p.x1) / 2;
  if (p.xlabel === "sal") {
    g.append("text").attr("x", cx).attr("y", p.y1 + 56)
      .attr("text-anchor", "middle").style("font-size", "22px").text("salinity []");
  } else {
    const t = g.append("text").attr("x", cx).attr("y", p.y1 + 61)
      .attr("text-anchor", "middle").style("font-size", "22px");
    t.append("tspan").text("pot. density [kg m ");
    t.append("tspan").attr("dy", -10).style("font-size", "16px").text("-3");
    t.append("tspan").attr("dy", 10).text("]");
  }
  if (p.depthLabel) {
    g.append("text")
      .attr("transform", `translate(29,${(p.y0 + p.y1) / 2}) rotate(-90)`)
      .attr("text-anchor", "middle").style("font-size", "22px").text("depth [m]");
  }
  g.append("text").attr("x", p.letter[0]).attr("y", p.letter[1])
    .style("font-size", "30px").style("font-weight", "bold").attr("fill", "#000").text(p.id);
  p.note.forEach((s, i) => {
    g.append("text").attr("x", p.noteXY[0]).attr("y", p.noteXY[1] + i * 28.8)
      .style("font-size", "20.5px").attr("fill", "#000").text(s);
  });

  if (p.id === "a") drawLegend();
});

function drawLegend() {
  const lg = svg.append("g");
  lg.append("rect").attr("x", 82).attr("y", 372).attr("width", 421).attr("height", 145)
    .attr("fill", "#fff").attr("stroke", axisColor).attr("stroke-width", 1);
  const rowY = d3.scaleLinear().domain([0, 5]).range([386, 505]);
  legendLabels.forEach((s, i) => {
    const yy = rowY(i);
    if (i === 0) lg.append("line").attr("x1", 88).attr("x2", 125).attr("y1", yy).attr("y2", yy)
      .attr("stroke", "#9a9a9a").attr("stroke-width", 1.6);
    if (i === 1) lg.append("line").attr("x1", 88).attr("x2", 125).attr("y1", yy).attr("y2", yy)
      .attr("stroke", "#000").attr("stroke-width", 2.8);
    if (i === 2 || i === 3) lg.append("circle").attr("cx", 106).attr("cy", yy).attr("r", 0.9)
      .attr("fill", i === 2 ? "#6060ff" : "#ff6060");
    if (i === 4 || i === 5) lg.append("circle").attr("cx", 106).attr("cy", yy).attr("r", 4.5)
      .attr("fill", i === 4 ? "#0000ff" : "#ff0000");
    lg.append("text").attr("x", 131).attr("y", yy + 6.5)
      .style("font-size", "18.5px").attr("fill", "#000").text(s);
  });
}
</script>
</body>
</html>
